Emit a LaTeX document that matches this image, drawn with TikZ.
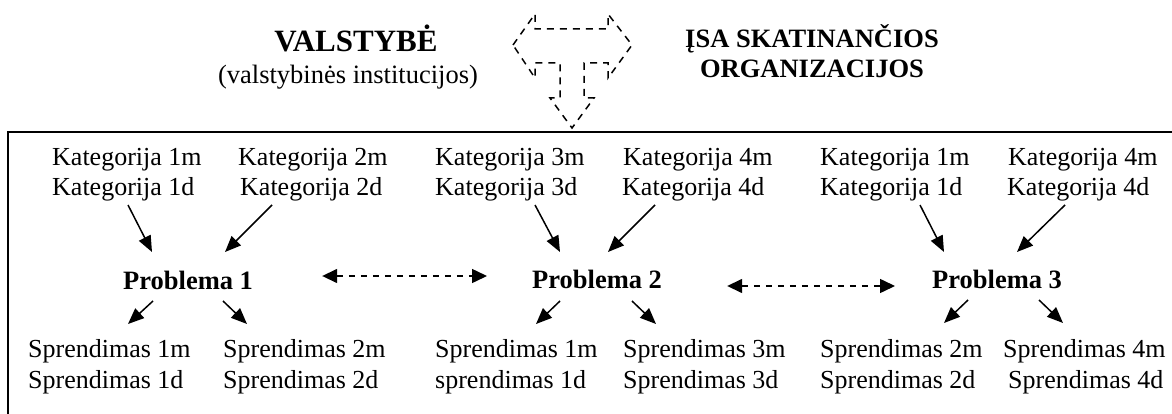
\documentclass[tikz,border=0pt]{standalone}
\usepackage{fontspec}
\setmainfont{Liberation Serif}
\usetikzlibrary{arrows.meta,calc}
\tikzset{
  txt/.style={inner sep=0pt, anchor=base west, font=\fontsize{26}{30}\selectfont},
  prob/.style={inner sep=0pt, anchor=base west, font=\fontsize{26.5}{30}\selectfont\bfseries},
  head/.style={inner sep=0pt, anchor=base, font=\fontsize{26.5}{30}\selectfont\bfseries},
  arr/.style={line width=1.5pt, -{Triangle[length=16pt,width=13pt]}},
  darr/.style={line width=1.5pt, dash pattern=on 6pt off 6pt, {Triangle[length=15pt,width=14pt]}-{Triangle[length=15pt,width=14pt]}},
  bigarrow/.style={line width=1.5pt, dash pattern=on 7pt off 6pt, line join=miter},
  frame/.style={line width=2pt}
}
\begin{document}
\begin{tikzpicture}[x=1pt,y=-1pt]
\useasboundingbox (0,0) rectangle (1172,414);
% headings
\node[head, font=\fontsize{31}{34}\selectfont\bfseries] (val) at (356,52) {VALSTYBĖ};
\node[inner sep=0pt, anchor=base, font=\fontsize{26.5}{30}\selectfont] (valsub) at (348,84) {(valstybinės institucijos)};
\node[head] (isa1) at (812,48) {ĮSA SKATINANČIOS};
\node[head] (isa2) at (812,78) {ORGANIZACIJOS};
% three-way dashed arrow
\draw[bigarrow] (513,45) -- (535,14) -- (535,29) -- (608,29) -- (608,14) -- (632,45)
  -- (608,78) -- (608,63) -- (584,63) -- (584,98) -- (594,98) -- (572,128)
  -- (550,98) -- (560,98) -- (560,63) -- (535,63) -- (535,78) -- cycle;
% frame
\draw[frame] (1180,132.5) -- (7.5,132.5) -- (7.5,420);
% categories
\node[txt] (k1m) at (52,166) {Kategorija 1m};
\node[txt] (k1d) at (52,196) {Kategorija 1d};
\node[txt] (k2m) at (238,166) {Kategorija 2m};
\node[txt] (k2d) at (240,196) {Kategorija 2d};
\node[txt] (k3m) at (435,166) {Kategorija 3m};
\node[txt] (k3d) at (435,196) {Kategorija 3d};
\node[txt] (k4m) at (623,166) {Kategorija 4m};
\node[txt] (k4d) at (622,196) {Kategorija 4d};
\node[txt] (k5m) at (820,166) {Kategorija 1m};
\node[txt] (k5d) at (820,196) {Kategorija 1d};
\node[txt] (k6m) at (1008,166) {Kategorija 4m};
\node[txt] (k6d) at (1007,196) {Kategorija 4d};
% problems
\node[prob] (p1) at (123,289) {Problema 1};
\node[prob] (p2) at (532,288) {Problema 2};
\node[prob] (p3) at (932,288) {Problema 3};
% solutions
\node[txt] (s1m) at (28,357) {Sprendimas 1m};
\node[txt] (s1d) at (28,388) {Sprendimas 1d};
\node[txt] (s2m) at (223,357) {Sprendimas 2m};
\node[txt] (s2d) at (223,388) {Sprendimas 2d};
\node[txt] (s3m) at (435,357) {Sprendimas 1m};
\node[txt] (s3d) at (435,388) {sprendimas 1d};
\node[txt] (s4m) at (623,357) {Sprendimas 3m};
\node[txt] (s4d) at (623,388) {Sprendimas 3d};
\node[txt] (s5m) at (820,357) {Sprendimas 2m};
\node[txt] (s5d) at (820,388) {Sprendimas 2d};
\node[txt] (s6m) at (1003,357) {Sprendimas 4m};
\node[txt] (s6d) at (1008,388) {Sprendimas 4d};
% category -> problem arrows
\draw[arr] ([shift={(76,9)}]k1d.base west) -- ([shift={(29,-37)}]p1.base west);
\draw[arr] ([shift={(32,9)}]k2d.base west) -- ([shift={(102,-37)}]p1.base west);
\draw[arr] ([shift={(100,9)}]k3d.base west) -- ([shift={(28,-36)}]p2.base west);
\draw[arr] ([shift={(33,9)}]k4d.base west) -- ([shift={(76,-36)}]p2.base west);
\draw[arr] ([shift={(100,9)}]k5d.base west) -- ([shift={(12,-36)}]p3.base west);
\draw[arr] ([shift={(58,9)}]k6d.base west) -- ([shift={(85,-36)}]p3.base west);
% problem -> solution arrows
\draw[arr] ([shift={(30,12)}]p1.base west) -- ([shift={(100,-33)}]s1m.base west);
\draw[arr] ([shift={(100,12)}]p1.base west) -- ([shift={(24,-33)}]s2m.base west);
\draw[arr] ([shift={(28,13)}]p2.base west) -- ([shift={(101,-33)}]s3m.base west);
\draw[arr] ([shift={(100,13)}]p2.base west) -- ([shift={(33,-33)}]s4m.base west);
\draw[arr] ([shift={(36,12)}]p3.base west) -- ([shift={(124,-34)}]s5m.base west);
\draw[arr] ([shift={(107,12)}]p3.base west) -- ([shift={(60,-34)}]s6m.base west);
% dashed links between problems
\draw[darr] ([shift={(69,-13)}]p1.base east) -- ([shift={(-45,-12)}]p2.base west);
\draw[darr] ([shift={(65,-2)}]p2.base east) -- ([shift={(-37,-2)}]p3.base west);
\end{tikzpicture}
\end{document}
